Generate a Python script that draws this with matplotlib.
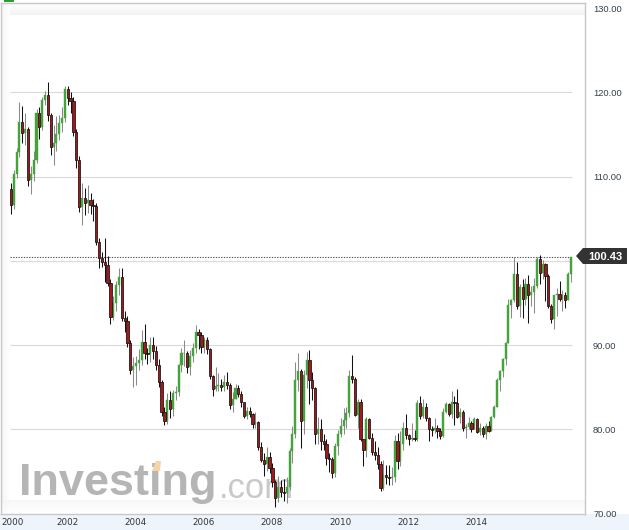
import numpy as np
import pandas as pd
import matplotlib
matplotlib.use("Agg")
import matplotlib.pyplot as plt
from matplotlib.patches import Polygon, Rectangle

# US Dollar Index, monthly candles Jun 2000 - Nov 2016
first_open = 108.5

close_2000 = [106.6, 110.3, 112.9, 116.5, 115.2, 115.6, 109.6]
high_2000 = [109.2, 110.8, 113.4, 118.8, 118.4, 117.5, 115.9]
low_2000 = [105.6, 106.2, 109.8, 112.3, 114.0, 113.8, 108.9]

close_2001 = [110.3, 112.0, 117.5, 115.9, 119.1, 119.7, 117.3, 113.5, 114.0, 115.0, 116.3, 116.9]
high_2001 = [111.2, 113.0, 118.0, 118.3, 119.5, 120.2, 121.2, 117.6, 116.1, 117.2, 117.3, 118.2]
low_2001 = [107.9, 109.5, 111.6, 114.4, 115.5, 118.5, 116.6, 112.6, 111.4, 113.0, 114.3, 115.3]

close_2002 = [120.4, 119.3, 119.0, 115.3, 112.0, 106.4, 107.5, 106.9, 107.2, 106.6, 106.5, 102.2]
high_2002 = [120.8, 120.7, 120.0, 119.4, 115.6, 112.4, 109.2, 108.6, 109.0, 108.0, 107.3, 106.9]
low_2002 = [116.5, 118.5, 117.6, 114.8, 111.0, 105.8, 104.2, 105.4, 105.7, 105.5, 104.7, 101.9]

close_2003 = [100.3, 99.9, 99.5, 97.4, 93.3, 95.0, 97.1, 98.1, 93.2, 92.9, 90.2, 87.0]
high_2003 = [102.7, 101.0, 102.7, 100.6, 97.8, 95.8, 97.6, 99.2, 99.2, 94.0, 93.4, 90.6]
low_2003 = [99.2, 99.3, 97.5, 97.0, 92.5, 93.0, 94.0, 96.0, 92.8, 91.6, 89.8, 86.6]

close_2004 = [87.5, 87.9, 88.2, 90.4, 89.0, 88.9, 90.0, 89.3, 87.6, 85.6, 82.0, 81.0]
high_2004 = [88.6, 88.7, 89.5, 91.8, 92.5, 89.6, 90.9, 91.0, 89.9, 88.4, 85.8, 82.6]
low_2004 = [85.0, 85.3, 87.0, 87.6, 88.3, 87.8, 88.0, 88.4, 87.0, 85.0, 81.6, 80.5]

close_2005 = [83.5, 82.4, 84.3, 84.4, 87.6, 89.0, 89.1, 87.4, 88.7, 89.6, 91.5, 91.2]
high_2005 = [84.3, 84.6, 84.7, 85.2, 87.8, 89.7, 90.6, 89.3, 89.4, 90.3, 92.4, 91.9]
low_2005 = [80.6, 81.3, 81.6, 83.5, 84.0, 86.8, 87.5, 86.7, 86.5, 88.0, 89.0, 89.5]

close_2006 = [89.8, 90.6, 89.5, 86.3, 84.8, 85.2, 85.3, 85.0, 85.6, 85.3, 82.9, 83.6]
high_2006 = [91.5, 91.0, 91.0, 89.6, 86.5, 87.4, 86.7, 86.0, 86.5, 86.8, 85.5, 84.4]
low_2006 = [89.0, 89.0, 88.9, 86.0, 83.9, 84.5, 84.5, 84.6, 84.5, 84.8, 82.4, 82.0]

close_2007 = [84.9, 84.2, 83.2, 81.6, 82.2, 81.8, 80.6, 80.9, 77.9, 76.4, 75.9, 76.7]
high_2007 = [85.4, 85.3, 84.5, 83.0, 82.7, 82.6, 81.9, 82.1, 81.0, 78.5, 77.2, 77.9]
low_2007 = [83.6, 83.8, 82.7, 81.3, 81.2, 81.5, 80.2, 80.1, 77.5, 76.1, 74.5, 75.1]

close_2008 = [75.4, 73.7, 71.9, 73.1, 72.6, 72.4, 73.2, 77.4, 79.4, 85.8, 86.9, 81.0]
high_2008 = [77.3, 76.0, 74.0, 74.5, 74.0, 74.1, 74.4, 77.8, 80.4, 88.0, 89.0, 87.2]
low_2008 = [74.8, 73.1, 70.8, 71.4, 72.0, 71.5, 71.3, 72.8, 76.0, 79.0, 84.5, 77.8]

close_2009 = [86.4, 88.2, 85.8, 84.9, 79.4, 80.0, 78.6, 78.3, 76.6, 76.5, 74.8, 78.0]
high_2009 = [87.0, 89.2, 89.4, 86.8, 85.0, 81.5, 81.2, 79.5, 78.8, 77.2, 76.7, 78.4]
low_2009 = [79.5, 84.9, 83.0, 83.5, 78.3, 78.3, 77.5, 77.5, 75.8, 74.9, 74.2, 74.4]

close_2010 = [79.5, 80.4, 81.1, 81.9, 86.3, 86.0, 81.7, 83.2, 78.9, 77.5, 81.2, 79.0]
high_2010 = [79.9, 81.3, 82.5, 82.6, 87.0, 88.8, 86.2, 83.6, 83.6, 78.9, 81.5, 81.4]
low_2010 = [76.9, 79.1, 79.5, 80.1, 81.5, 85.5, 81.6, 80.1, 78.6, 75.7, 76.7, 78.8]

close_2011 = [77.3, 76.9, 75.9, 73.0, 74.6, 74.3, 74.2, 74.3, 78.6, 76.2, 78.3, 80.2]
high_2011 = [79.6, 78.6, 77.9, 76.2, 76.4, 75.8, 75.8, 75.5, 79.3, 79.6, 79.8, 80.9]
low_2011 = [77.0, 76.3, 75.3, 72.7, 72.8, 73.5, 73.4, 73.4, 73.8, 75.3, 75.6, 77.6]

close_2012 = [79.3, 78.8, 79.0, 78.8, 83.1, 81.6, 82.7, 81.4, 80.0, 79.9, 80.2, 79.8]
high_2012 = [81.8, 79.4, 80.7, 79.9, 83.5, 84.0, 83.6, 83.1, 81.5, 80.4, 81.3, 80.5]
low_2012 = [78.9, 78.1, 78.6, 78.6, 78.6, 81.2, 81.3, 81.0, 78.6, 79.2, 79.6, 79.0]

close_2013 = [79.2, 82.1, 83.0, 81.8, 83.2, 83.1, 81.5, 82.1, 80.2, 80.3, 80.7, 80.0]
high_2013 = [80.1, 82.5, 83.3, 83.1, 84.5, 84.0, 84.8, 82.5, 82.3, 80.6, 81.5, 81.0]
low_2013 = [78.9, 79.1, 81.9, 81.6, 81.4, 80.5, 81.4, 80.8, 79.8, 79.0, 80.0, 79.7]

close_2014 = [81.2, 79.7, 80.1, 79.5, 80.4, 79.8, 81.5, 82.7, 85.9, 86.9, 88.4, 90.3]
high_2014 = [81.5, 81.4, 80.7, 80.4, 80.8, 81.0, 81.6, 82.9, 86.1, 87.1, 88.5, 90.4]
low_2014 = [80.0, 79.6, 79.3, 79.1, 78.9, 79.7, 79.8, 81.3, 82.6, 84.5, 86.2, 87.6]

close_2015 = [94.8, 95.3, 98.4, 94.6, 96.9, 95.5, 97.3, 96.0, 96.3, 97.0, 100.2, 98.6]
high_2015 = [95.5, 95.5, 100.4, 99.9, 97.3, 97.8, 98.0, 98.3, 97.0, 98.0, 100.5, 100.7]
low_2015 = [90.2, 93.2, 95.1, 94.3, 93.3, 93.2, 94.7, 92.6, 94.6, 93.8, 96.8, 97.2]

close_2016 = [99.6, 98.2, 94.6, 93.1, 95.9, 96.1, 95.5, 96.0, 95.4, 98.4, 100.43]
high_2016 = [100.1, 99.8, 98.4, 94.9, 96.0, 96.8, 97.6, 96.5, 96.3, 98.7, 100.5]
low_2016 = [97.8, 95.2, 94.4, 92.6, 91.9, 93.4, 95.2, 94.1, 94.4, 95.4, 97.5]

closes = (close_2000 + close_2001 + close_2002 + close_2003 + close_2004 + close_2005
          + close_2006 + close_2007 + close_2008 + close_2009 + close_2010 + close_2011
          + close_2012 + close_2013 + close_2014 + close_2015 + close_2016)
highs = (high_2000 + high_2001 + high_2002 + high_2003 + high_2004 + high_2005
         + high_2006 + high_2007 + high_2008 + high_2009 + high_2010 + high_2011
         + high_2012 + high_2013 + high_2014 + high_2015 + high_2016)
lows = (low_2000 + low_2001 + low_2002 + low_2003 + low_2004 + low_2005
        + low_2006 + low_2007 + low_2008 + low_2009 + low_2010 + low_2011
        + low_2012 + low_2013 + low_2014 + low_2015 + low_2016)

months = pd.period_range("2000-06", "2016-11", freq="M")
year_labels = ["2000", "2002", "2004", "2006", "2008", "2010", "2012", "2014"]
y_ticks = [70, 80, 90, 110, 120, 130]  # 100 sits under the price tag
grid_levels = [80, 90, 100, 110, 120]
last_price = closes[-1]

df = pd.DataFrame({"close": closes, "high": highs, "low": lows}, index=months)
df["open"] = [first_open] + closes[:-1]
# month number counted from Jan 2000
df["x"] = (df.index.year - 2000) * 12 + df.index.month - 1

W, H = 629, 530


def px(x, y):
    # screen pixel -> figure fraction
    return x / W, 1 - y / H


fig = plt.figure(figsize=(W / 100, H / 100), dpi=100)
fig.patch.set_facecolor("white")

# light blue strip under the plot
fig.add_artist(Rectangle((0, 0), 1, 16 / H, transform=fig.transFigure,
                         facecolor="#eef4fb", edgecolor="none", zorder=0))
fig.add_artist(Rectangle(px(4, 2), 10 / W, 2 / H, transform=fig.transFigure,
                         facecolor="#2f9a2f", edgecolor="none"))

ax = fig.add_axes([1 / W, 16 / H, 584 / W, 511 / H])
ax.set_xlim(1.51, 206.93)
ax.set_ylim(69.95, 130.6)
ax.set_facecolor("white")

# soft shadow inside top / left / bottom edges
grad = np.linspace(0, 1, 64) ** 0.7
shade = matplotlib.colors.LinearSegmentedColormap.from_list("sh", ["#f1f1f1", "#ffffff"])
ax.imshow(grad[:, None], cmap=shade, aspect="auto", transform=ax.transAxes,
          extent=(0, 1, 1, 1 - 12 / 511), zorder=0.1, vmin=0, vmax=1)
ax.imshow(grad[None, :], cmap=shade, aspect="auto", transform=ax.transAxes,
          extent=(0, 9 / 584, 0, 1), zorder=0.1, vmin=0, vmax=1)
ax.imshow(grad[:, None], cmap=shade, aspect="auto", transform=ax.transAxes,
          extent=(0, 1, 0, 14 / 511), zorder=0.1, vmin=0, vmax=1, alpha=0.6)

x_left = (10 + 3.3) / 2.843
x_right = (572 + 3.3) / 2.843
ax.hlines(grid_levels, x_left, x_right, color="#d9d9d9", lw=0.8, zorder=0.5)

# watermark
ax.text(*px(19, 495), "Investing", transform=fig.transFigure, fontsize=32.5,
        family="Liberation Sans", fontweight="bold", color="#b5b5b5", zorder=0.6)
wm = ax.text(*px(219, 498), ".com", transform=fig.transFigure, fontsize=25,
             family="Liberation Sans", color="#c9c9c9", zorder=0.6)
wm.set_clip_path(Rectangle(px(210, 505), 62 / W, 50 / H, transform=fig.transFigure))
ax.add_patch(Polygon([px(152, 471), px(156, 461), px(161, 461), px(160, 471)],
                     closed=True, transform=fig.transFigure, facecolor="#f7d5a3",
                     edgecolor="none", zorder=0.7))

ax.hlines(last_price, x_left, x_right, color="#555555", lw=0.8,
          linestyles=(0, (1.2, 1.2)), zorder=1)

# candles
up = df[df["close"] >= df["open"]]
dn = df[df["close"] < df["open"]]
ax.vlines(up["x"], up["low"], up["high"], color="#8a8a8a", lw=0.75, zorder=2)
ax.vlines(dn["x"], dn["low"], dn["high"], color="#111111", lw=0.75, zorder=2)
ax.bar(up["x"], np.maximum(up["close"] - up["open"], 0.1), bottom=up["open"],
       width=0.72, color="#45a33c", edgecolor="#45a33c", lw=0.3, zorder=3)
ax.bar(dn["x"], np.maximum(dn["open"] - dn["close"], 0.1), bottom=dn["close"],
       width=0.8, color="#a8161b", edgecolor="#111111", lw=0.55, zorder=3)

for s in ax.spines.values():
    s.set_color("#c8c8c8")
    s.set_linewidth(1)

ax.yaxis.tick_right()
ax.set_yticks(y_ticks)
ax.set_yticklabels([f"{v:.2f}" for v in y_ticks])
ax.tick_params(axis="y", length=0, pad=5.8, labelsize=6.7, labelcolor="#34414d")
for lab in ax.get_yticklabels():
    lab.set_family("Liberation Sans")

tick_pos = [5.7] + [12 * (int(y) - 2000) + 0.8 for y in year_labels[1:]]
ax.set_xticks(tick_pos)
ax.set_xticklabels(year_labels)
ax.tick_params(axis="x", length=0, pad=2.6, labelsize=6.3, labelcolor="#333333")

# last price tag
fig.add_artist(Polygon([px(576, 256), px(583, 248), px(627, 248), px(627, 264), px(583, 264)],
                       closed=True, transform=fig.transFigure, facecolor="#333333",
                       edgecolor="none", zorder=5))
fig.text(*px(605, 256.5), f"{last_price:.2f}", ha="center", va="center", color="white",
         fontsize=8, fontweight="bold", family="Liberation Sans", zorder=6)

fig.savefig("out.png", dpi=100)
